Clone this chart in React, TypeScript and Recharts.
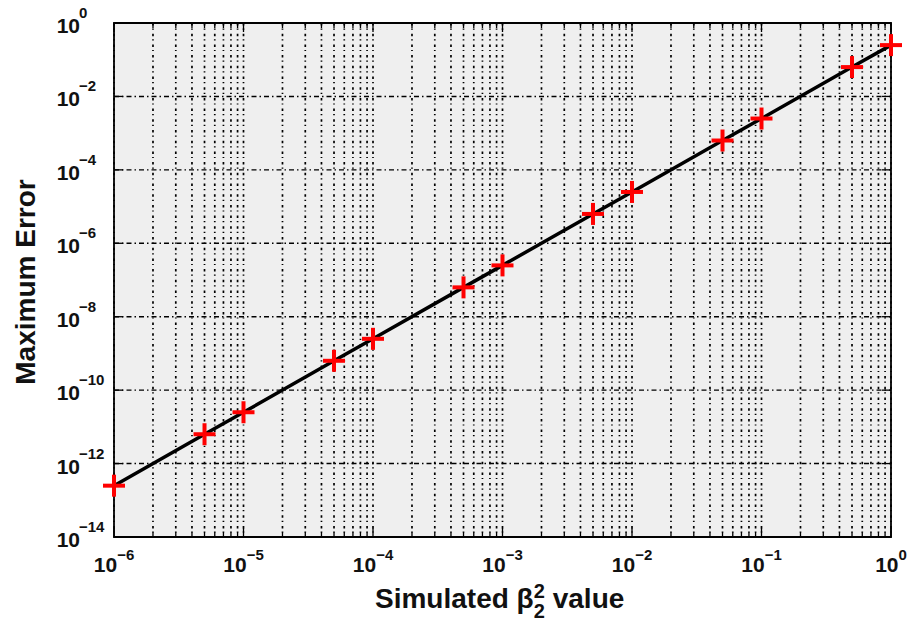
import React from 'react';
import {
  ComposedChart,
  Line,
  XAxis,
  YAxis,
  CartesianGrid,
  ReferenceArea,
} from 'recharts';

// simulated beta_2^2 values and measured maximum error
const betaValues = [1e-6, 5e-6, 1e-5, 5e-5, 1e-4, 5e-4, 1e-3, 5e-3, 1e-2, 5e-2, 1e-1, 5e-1, 1];
const maxErrors = [
  2.5e-13, 6.3e-12, 2.5e-11, 6.3e-10, 2.5e-9, 6.3e-8, 2.5e-7, 6.3e-6, 2.5e-5, 6.3e-4, 2.5e-3, 6.3e-2, 0.25,
];

const xMajorTicks = [1e-6, 1e-5, 1e-4, 1e-3, 1e-2, 1e-1, 1];
const yMajorTicks = [1e-14, 1e-12, 1e-10, 1e-8, 1e-6, 1e-4, 1e-2, 1];

// log minor ticks 2..9 in each decade
const xAllTicks: number[] = [];
xMajorTicks.forEach((t, i) => {
  xAllTicks.push(t);
  if (i < xMajorTicks.length - 1) {
    for (let m = 2; m <= 9; m++) xAllTicks.push(m * t);
  }
});

const data = betaValues.map((x, i) => ({ x, y: maxErrors[i] }));

const W = 909;
const H = 626;
const PL = 114;
const PR = 891;
const PT = 23;
const PB = 537;
const FONT = '"Liberation Sans", Arial, Helvetica, sans-serif';

const isMajor = (v: number) => xMajorTicks.some((t) => Math.abs(v / t - 1) < 1e-6);
const expLabel = (v: number) => {
  const e = Math.round(Math.log10(v));
  return e < 0 ? `\u2212${-e}` : `${e}`;
};

const XTick = (props: any) => {
  const { x, payload } = props;
  const major = isMajor(payload.value);
  const len = major ? 9 : 5;
  return (
    <g>
      <line x1={x} x2={x} y1={PB} y2={PB - len} stroke="#000" strokeWidth={1.3} />
      <line x1={x} x2={x} y1={PT} y2={PT + len} stroke="#000" strokeWidth={1.3} />
      {major && (
        <text x={x} y={572} textAnchor="middle" fontFamily={FONT} fontWeight="bold" fill="#111">
          <tspan fontSize={21}>10</tspan>
          <tspan fontSize={15} dy={-12}>{expLabel(payload.value)}</tspan>
        </text>
      )}
    </g>
  );
};

const YTick = (props: any) => {
  const { y, payload } = props;
  return (
    <g>
      <line x1={PL} x2={PL + 9} y1={y} y2={y} stroke="#000" strokeWidth={1.3} />
      <line x1={PR} x2={PR - 9} y1={y} y2={y} stroke="#000" strokeWidth={1.3} />
      <text x={80} y={y + 10} textAnchor="end" fontFamily={FONT} fontWeight="bold" fontSize={21} fill="#111">
        10
      </text>
      <text x={79} y={y - 5} textAnchor="start" fontFamily={FONT} fontWeight="bold" fontSize={15} fill="#111">
        {expLabel(payload.value)}
      </text>
    </g>
  );
};

const PlusDot = (props: any) => {
  const { cx, cy } = props;
  if (cx == null || cy == null) return null;
  return (
    <g>
      <line x1={cx - 11} x2={cx + 11} y1={cy} y2={cy} stroke="#ff0000" strokeWidth={4} />
      <line x1={cx} x2={cx} y1={cy - 11} y2={cy + 11} stroke="#ff0000" strokeWidth={4} />
    </g>
  );
};

export default function App() {
  return (
    <div style={{ position: 'absolute', left: 0, top: 0, width: W, height: H, background: '#fff' }}>
      <ComposedChart
        width={W}
        height={H}
        data={data}
        margin={{ top: PT, right: W - PR, bottom: 0, left: 0 }}
      >
        <CartesianGrid
          horizontal={false}
          fill="#efefef"
          fillOpacity={1}
          stroke="#000"
          strokeWidth={1.7}
          strokeDasharray="2.5 3 1.2 4"
        />
        <CartesianGrid vertical={false} stroke="#000" strokeWidth={1.4} strokeDasharray="5 3 1.5 3" />
        <XAxis
          dataKey="x"
          type="number"
          scale="log"
          domain={[1e-6, 1]}
          ticks={xAllTicks}
          interval={0}
          height={H - PB}
          axisLine={false}
          tickLine={false}
          tick={<XTick />}
        />
        <YAxis
          type="number"
          scale="log"
          domain={[1e-14, 1]}
          ticks={yMajorTicks}
          interval={0}
          width={PL}
          axisLine={false}
          tickLine={false}
          tick={<YTick />}
        />
        <ReferenceArea
          x1={1e-6}
          x2={1}
          y1={1e-14}
          y2={1}
          fill="none"
          stroke="#000"
          strokeWidth={1.8}
          ifOverflow="visible"
        />
        <Line
          dataKey="y"
          type="linear"
          stroke="#000"
          strokeWidth={3.5}
          dot={(p: any) => <PlusDot key={p.index} {...p} />}
          activeDot={false}
          isAnimationActive={false}
        />
      </ComposedChart>
      <svg
        width={W}
        height={H}
        style={{ position: 'absolute', left: 0, top: 0, pointerEvents: 'none' }}
      >
        <text
          x={35}
          y={282}
          transform="rotate(-90 35 282)"
          textAnchor="middle"
          fontFamily={FONT}
          fontWeight="bold"
          fontSize={28}
          fill="#111"
        >
          Maximum Error
        </text>
        <text x={375} y={608} fontFamily={FONT} fontWeight="bold" fontSize={28} fill="#111">
          <tspan>Simulated β</tspan>
          <tspan fontSize={20} dy={-10}>2</tspan>
          <tspan fontSize={20} dx={-11} dy={20}>2</tspan>
          <tspan dy={-10}> value</tspan>
        </text>
      </svg>
    </div>
  );
}
